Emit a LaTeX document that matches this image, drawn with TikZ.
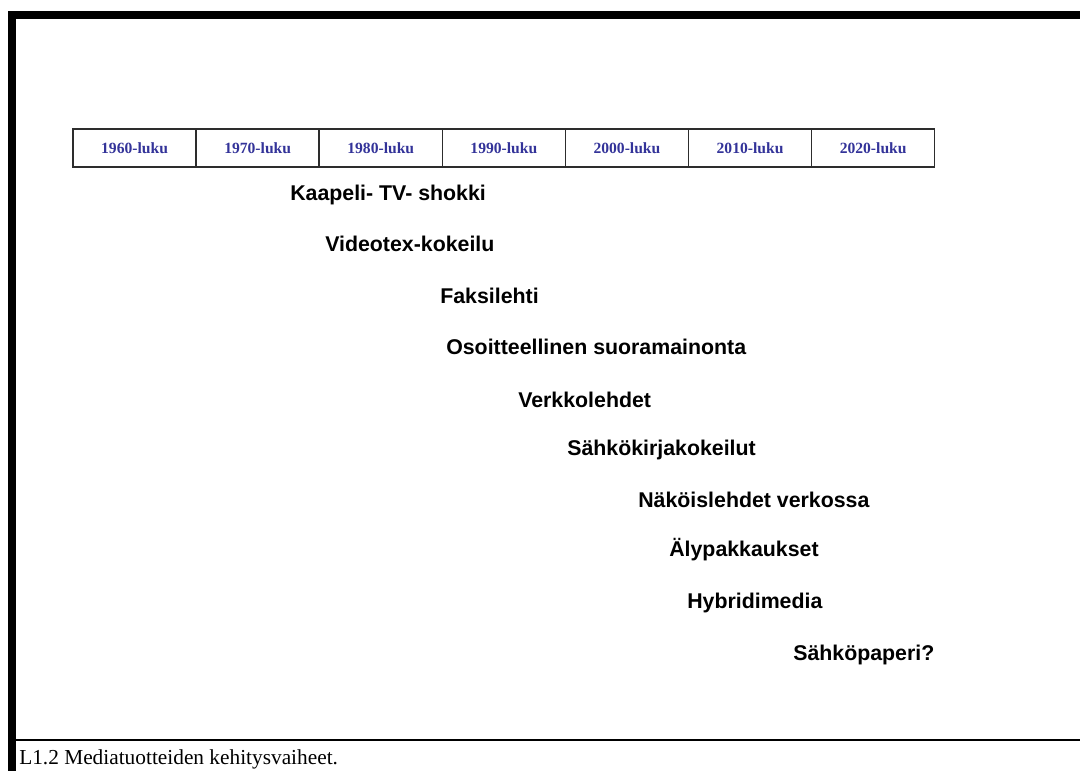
\documentclass[tikz,border=0pt]{standalone}
\usepackage{fontspec}
\setmainfont{Liberation Serif}
\newfontfamily\labfont{Liberation Sans}
\definecolor{decadeblue}{RGB}{51,51,153}
\definecolor{cellline}{RGB}{45,45,45}
\begin{document}
\begin{tikzpicture}[x=0.75pt,y=-0.75pt,
  decade/.style={draw=cellline,line width=1pt,minimum width=92.25pt,minimum height=28.5pt,
    inner sep=0pt,text=decadeblue,font=\fontsize{11.7}{13}\selectfont\bfseries},
  milestone/.style={anchor=west,inner sep=0pt,font=\labfont\fontsize{16}{18}\selectfont\bfseries},
  caption/.style={anchor=west,inner sep=0pt,font=\fontsize{16}{19}\selectfont}]
\useasboundingbox (0,0) rectangle (1080,773);
% frame: heavy top and left bars, thin rule above the caption
\fill[black] (8,11) rectangle (1080,19);
\fill[black] (8,11) rectangle (16,771);
\fill[black] (16,738.8) rectangle (1080,741.4);
% decade strip
\foreach \d [count=\i from 0] in {1960,1970,1980,1990,2000,2010,2020}
  \node[decade] (dec\i) at ({73+123.1*(\i+0.5)},148) {\d-luku};
% milestones
\node[milestone] (m1) at (290,195) {Kaapeli- TV- shokki};
\node[milestone] (m2) at (325,244) {Videotex-kokeilu};
\node[milestone] (m3) at (440,296) {Faksilehti};
\node[milestone] (m4) at (446,347) {Osoitteellinen suoramainonta};
\node[milestone] (m5) at (518,400) {Verkkolehdet};
\node[milestone] (m6) at (567,450) {Sähkökirjakokeilut};
\node[milestone] (m7) at (638,500) {Näköislehdet verkossa};
\node[milestone] (m8) at (669,550) {Älypakkaukset};
\node[milestone] (m9) at (687,603) {Hybridimedia};
\node[milestone] (m10) at (793,655) {Sähköpaperi?};
% caption
\node[caption] (cap) at (19,759) {L1.2 Mediatuotteiden kehitysvaiheet.};
\end{tikzpicture}
\end{document}
